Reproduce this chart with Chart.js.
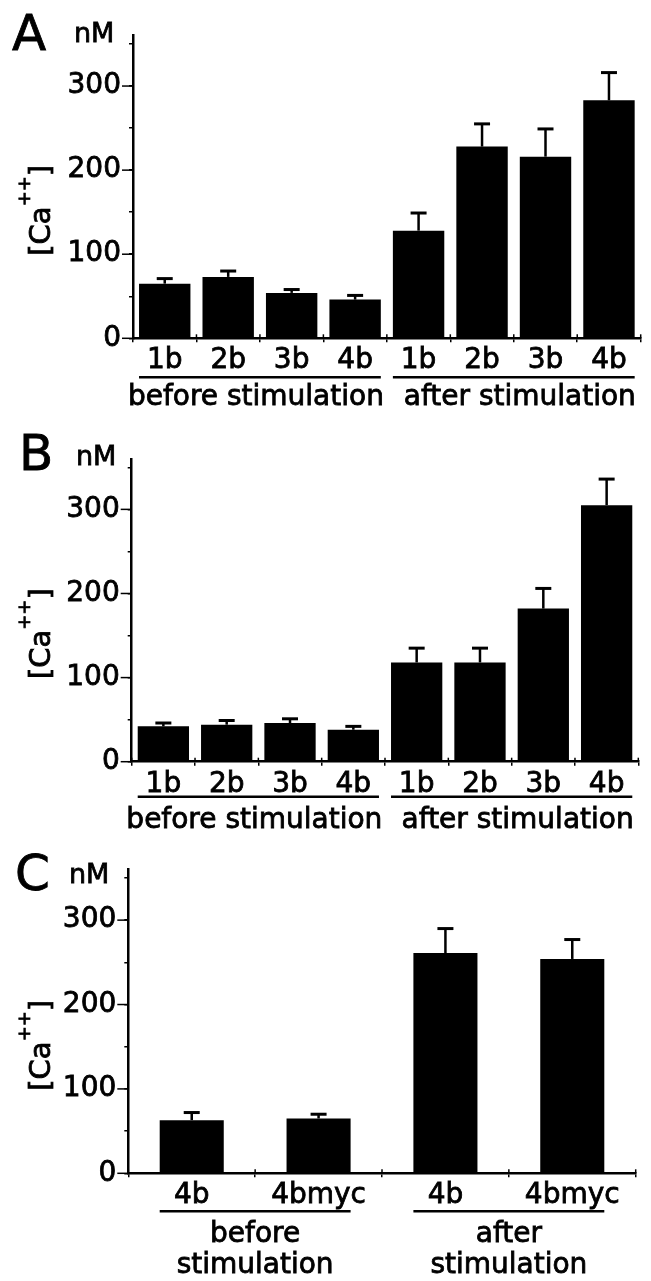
<!DOCTYPE html>
<html>
<head>
<meta charset="utf-8">
<script src="https://cdn.jsdelivr.net/npm/chart.js@4.4.0/dist/chart.umd.min.js"></script>
<style>
  html, body { margin: 0; padding: 0; background: #fff; }
  #wrap { position: relative; width: 651px; height: 1281px; }
  canvas { position: absolute; left: 0; }
</style>
</head>
<body>
<div id="wrap">
  <canvas id="panel-a" width="651" height="420" style="top:0"></canvas>
  <canvas id="panel-b" width="651" height="420" style="top:420px"></canvas>
  <canvas id="panel-c" width="651" height="441" style="top:840px"></canvas>
</div>
<script>
// DATA
const labelsAB = ["1b", "2b", "3b", "4b", "1b", "2b", "3b", "4b"];
const labelsC = ["4b", "4bmyc", "4b", "4bmyc"];

const meanA = [65, 73, 54, 46, 128, 228, 216, 283];
const errA = [6, 7, 4, 5, 21, 27, 33, 33];
const meanB = [42, 44, 46, 38, 118, 118, 182, 305];
const errB = [4, 5, 5, 4, 17, 17, 24, 31];
const meanC = [63, 65, 261, 254];
const errC = [9, 5, 29, 23];

const yTickLabels = [0, 100, 200, 300];
const groupsAB = [["before stimulation"], ["after stimulation"]];
const groupsC = [["before", "stimulation"], ["after", "stimulation"]];

Chart.defaults.font.family = "'DejaVu Sans'";
Chart.defaults.color = "#000";

const STROKE = 0.8; // thickens the text a bit, the original font is heavier

// write text filled + lightly stroked
function heavyText(ctx, t, x, y) {
    ctx.fillText(t, x, y);
    ctx.lineWidth = STROKE;
    ctx.strokeText(t, x, y);
}

// draws the upper error bar (SEM) on each bar
const errorBars = {
    id: "errorBars",
    afterDatasetsDraw(chart) {
        const ctx = chart.ctx;
        const y = chart.scales.y;
        const ds = chart.data.datasets[0];
        ctx.save();
        ctx.strokeStyle = "#000";
        chart.getDatasetMeta(0).data.forEach((bar, i) => {
            const top = y.getPixelForValue(ds.data[i] + ds.errors[i]);
            ctx.lineWidth = 2.5;
            ctx.beginPath();
            ctx.moveTo(bar.x, bar.y);
            ctx.lineTo(bar.x, top);
            ctx.stroke();
            ctx.lineWidth = 3;
            ctx.beginPath();
            ctx.moveTo(bar.x - 8, top);
            ctx.lineTo(bar.x + 8, top);
            ctx.stroke();
        });
        ctx.restore();
    }
};

// panel letter, unit, y title, group underlines
function decor(cfg) {
    return {
        id: "decor",
        afterDraw(chart) {
            const ctx = chart.ctx;
            const x = chart.scales.x;
            const y = chart.scales.y;
            const base = y.getPixelForValue(0);
            ctx.save();
            ctx.fillStyle = "#000";
            ctx.strokeStyle = "#000";
            ctx.textBaseline = "alphabetic";
            ctx.textAlign = "left";
            ctx.font = "50px 'DejaVu Sans'";
            heavyText(ctx, cfg.letter, cfg.letterX, 50);
            ctx.font = "27px 'DejaVu Sans'";
            heavyText(ctx, "nM", cfg.unitX, cfg.unitY);

            // longer marks at labelled ticks
            ctx.lineWidth = 1.5;
            yTickLabels.forEach(v => {
                const py = y.getPixelForValue(v);
                ctx.beginPath();
                ctx.moveTo(y.right - 11, py);
                ctx.lineTo(y.right, py);
                ctx.stroke();
            });
            // x ticks also poke above the axis
            const n = chart.data.labels.length;
            for (let i = 0; i <= n; i++) {
                const px = x.left + i * x.width / n;
                ctx.beginPath();
                ctx.moveTo(px, base - 4);
                ctx.lineTo(px, base);
                ctx.stroke();
            }

            // [Ca++] title
            ctx.save();
            ctx.translate(50, base - 128);
            ctx.rotate(-Math.PI / 2);
            ctx.font = "29px 'DejaVu Sans'";
            const w1 = ctx.measureText("[Ca").width;
            const w3 = ctx.measureText("]").width;
            ctx.font = "18px 'DejaVu Sans'";
            const w2 = ctx.measureText("++").width;
            let tx = -(w1 + w2 + w3) / 2;
            ctx.font = "29px 'DejaVu Sans'";
            heavyText(ctx, "[Ca", tx, 0);
            tx += w1;
            ctx.font = "18px 'DejaVu Sans'";
            heavyText(ctx, "++", tx, -20);
            tx += w2;
            ctx.font = "29px 'DejaVu Sans'";
            heavyText(ctx, "]", tx, 0);
            ctx.restore();

            // groups
            const bars = chart.getDatasetMeta(0).data;
            const half = n / 2;
            ctx.font = "28px 'DejaVu Sans'";
            ctx.textAlign = "center";
            cfg.groups.forEach((lines, g) => {
                const first = bars[g * half];
                const last = bars[g * half + half - 1];
                const x0 = first.x - first.width / 2;
                const x1 = last.x + last.width / 2;
                ctx.lineWidth = 2.5;
                ctx.beginPath();
                ctx.moveTo(x0, base + cfg.lineGap);
                ctx.lineTo(x1, base + cfg.lineGap);
                ctx.stroke();
                lines.forEach((t, k) => {
                    heavyText(ctx, t, (x0 + x1) / 2 + cfg.textShift[g], base + cfg.textGap + k * 31);
                });
            });
            ctx.restore();
        }
    };
}

function makePanel(id, cfg) {
    const canvas = document.getElementById(id);
    const H = canvas.height;
    const area = cfg.area;
    return new Chart(canvas, {
        type: "bar",
        data: {
            labels: cfg.labels,
            datasets: [{
                data: cfg.mean,
                errors: cfg.err,
                backgroundColor: "#000",
                borderWidth: 0,
                barPercentage: cfg.barPct,
                categoryPercentage: 1
            }]
        },
        options: {
            responsive: false,
            animation: false,
            devicePixelRatio: 1,
            layout: { padding: { left: 0, top: area.top, right: 651 - area.right, bottom: 0 } },
            plugins: { legend: { display: false }, tooltip: { enabled: false } },
            scales: {
                x: {
                    grid: { drawOnChartArea: false, tickLength: 4, color: "#000", lineWidth: 1.5, tickWidth: 1.5 },
                    border: { color: "#000", width: 2.5 },
                    ticks: {
                        color: "#000", font: { size: 28 }, padding: 2, maxRotation: 0, autoSkip: false,
                        textStrokeColor: "#000", textStrokeWidth: STROKE
                    },
                    afterFit: s => { s.height = H - area.bottom; }
                },
                y: {
                    min: 0,
                    max: 360,
                    grid: { drawOnChartArea: false, tickLength: 4, color: "#000", lineWidth: 1.5, tickWidth: 1.5 },
                    border: { color: "#000", width: 2.5 },
                    ticks: {
                        stepSize: 25,
                        includeBounds: false,
                        color: "#000",
                        font: { size: 28 },
                        padding: 8,
                        textStrokeColor: "#000",
                        textStrokeWidth: STROKE,
                        callback: v => yTickLabels.includes(v) ? String(v) : ""
                    },
                    afterFit: s => { s.width = area.left; }
                }
            }
        },
        plugins: [errorBars, decor(cfg)]
    });
}

makePanel("panel-a", {
    letter: "A", letterX: 12, unitX: 74, unitY: 42,
    labels: labelsAB, mean: meanA, err: errA, groups: groupsAB, textShift: [-4, 6],
    barPct: 0.81, lineGap: 39, textGap: 67,
    area: { left: 133, right: 640.7, top: 35.6, bottom: 338.3 }
});
makePanel("panel-b", {
    letter: "B", letterX: 19, unitX: 76, unitY: 45,
    labels: labelsAB, mean: meanB, err: errB, groups: groupsAB, textShift: [-4, 6],
    barPct: 0.81, lineGap: 35, textGap: 66,
    area: { left: 131.7, right: 638.3, top: 38.9, bottom: 341.7 }
});
makePanel("panel-c", {
    letter: "C", letterX: 15, unitX: 69, unitY: 43,
    labels: labelsC, mean: meanC, err: errC, groups: groupsC, textShift: [0, 0],
    barPct: 0.505, lineGap: 38, textGap: 69,
    area: { left: 128.3, right: 635.7, top: 29.5, bottom: 333.3 }
});
</script>
</body>
</html>
